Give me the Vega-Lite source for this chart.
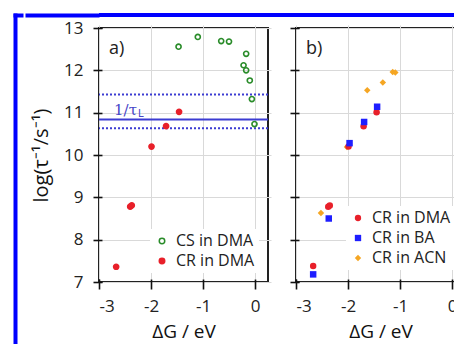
{
  "$schema": "https://vega.github.io/schema/vega-lite/v6.json",
  "padding": {"left": 13, "top": 13, "right": 0, "bottom": 0},
  "background": "white",
  "spacing": 0,
  "datasets": {
    "a": [
      {"dG": -1.47, "logk": 12.56, "series": "CS in DMA"},
      {"dG": -1.10, "logk": 12.79, "series": "CS in DMA"},
      {"dG": -0.65, "logk": 12.69, "series": "CS in DMA"},
      {"dG": -0.50, "logk": 12.68, "series": "CS in DMA"},
      {"dG": -0.17, "logk": 12.39, "series": "CS in DMA"},
      {"dG": -0.22, "logk": 12.12, "series": "CS in DMA"},
      {"dG": -0.17, "logk": 12.00, "series": "CS in DMA"},
      {"dG": -0.10, "logk": 11.76, "series": "CS in DMA"},
      {"dG": -0.06, "logk": 11.32, "series": "CS in DMA"},
      {"dG": -0.01, "logk": 10.73, "series": "CS in DMA"},
      {"dG": -1.46, "logk": 11.02, "series": "CR in DMA"},
      {"dG": -1.71, "logk": 10.68, "series": "CR in DMA"},
      {"dG": -1.99, "logk": 10.20, "series": "CR in DMA"},
      {"dG": -2.40, "logk": 8.78, "series": "CR in DMA"},
      {"dG": -2.37, "logk": 8.81, "series": "CR in DMA"},
      {"dG": -2.67, "logk": 7.36, "series": "CR in DMA"}
    ],
    "b": [
      {"dG": -1.14, "logk": 11.96, "series": "CR in ACN"},
      {"dG": -1.09, "logk": 11.95, "series": "CR in ACN"},
      {"dG": -1.33, "logk": 11.71, "series": "CR in ACN"},
      {"dG": -1.63, "logk": 11.53, "series": "CR in ACN"},
      {"dG": -2.02, "logk": 10.19, "series": "CR in ACN"},
      {"dG": -2.52, "logk": 8.63, "series": "CR in ACN"},
      {"dG": -1.45, "logk": 11.01, "series": "CR in DMA"},
      {"dG": -1.70, "logk": 10.68, "series": "CR in DMA"},
      {"dG": -1.99, "logk": 10.20, "series": "CR in DMA"},
      {"dG": -2.38, "logk": 8.78, "series": "CR in DMA"},
      {"dG": -2.35, "logk": 8.81, "series": "CR in DMA"},
      {"dG": -2.67, "logk": 7.38, "series": "CR in DMA"},
      {"dG": -1.44, "logk": 11.14, "series": "CR in BA"},
      {"dG": -1.69, "logk": 10.78, "series": "CR in BA"},
      {"dG": -1.97, "logk": 10.28, "series": "CR in BA"},
      {"dG": -2.37, "logk": 8.50, "series": "CR in BA"},
      {"dG": -2.67, "logk": 7.18, "series": "CR in BA"}
    ],
    "tau": [
      {"logk": 11.43, "kind": "bound"},
      {"logk": 10.84, "kind": "mean"},
      {"logk": 10.63, "kind": "bound"}
    ],
    "taulabel": [{"dG": -2.71, "logk": 11.07, "label": "1/τ"}],
    "tausub": [{"dG": -2.25, "logk": 10.96, "label": "L"}],
    "tagA": [{"dG": -2.81, "logk": 12.5, "label": "a)"}],
    "tagB": [{"dG": -2.81, "logk": 12.5, "label": "b)"}],
    "frame": [{"v": 0.5}]
  },
  "hconcat": [
    {
      "width": 10,
      "height": 331,
      "view": {"fill": null, "stroke": null},
      "data": {"name": "frame"},
      "mark": {"type": "point", "opacity": 0, "size": 1},
      "encoding": {
        "x": {"field": "v", "type": "quantitative", "scale": {"domain": [0, 1]}, "axis": {"orient": "top", "offset": -2, "domain": true, "domainColor": "#0000ff", "domainWidth": 4, "ticks": false, "labels": false, "grid": false, "title": null}},
        "y": {"field": "v", "type": "quantitative", "scale": {"domain": [0, 1]}, "axis": {"orient": "left", "offset": -2, "domain": true, "domainColor": "#0000ff", "domainWidth": 4, "ticks": false, "labels": false, "grid": false, "title": null}}
      }
    },
    {
      "spacing": 1,
      "vconcat": [
        {
          "width": 370,
          "height": 4,
          "view": {"fill": "#0000ff", "stroke": null},
          "data": {"name": "frame"},
          "mark": {"type": "point", "opacity": 0, "size": 1},
          "encoding": {
            "y": {"field": "v", "type": "quantitative", "scale": {"domain": [0, 1]}, "axis": {"orient": "left", "offset": 0, "domain": false, "values": [0.5], "ticks": true, "tickSize": 74, "tickWidth": 4, "tickColor": "#0000ff", "tickCap": "butt", "labels": false, "grid": false, "title": null}}
          }
        },
        {
          "spacing": 18,
          "resolve": {"scale": {"fill": "independent", "stroke": "independent", "color": "independent", "shape": "independent", "strokeDash": "independent"}},
          "hconcat": [
            {
              "width": 169,
              "height": 254,
              "layer": [
                {
                  "data": {"name": "tau"},
                  "mark": {"type": "rule", "color": "#3c3cd2", "strokeWidth": 2},
                  "encoding": {
                    "y": {"field": "logk", "type": "quantitative", "scale": {"domain": [7, 13], "nice": false, "zero": false}, "axis": {"values": [7, 8, 9, 10, 11, 12, 13], "title": "log(τ⁻¹/s⁻¹)"}},
                    "strokeDash": {"field": "kind", "type": "nominal", "scale": {"domain": ["mean", "bound"], "range": [[1, 0], [2, 2]]}, "legend": null}
                  }
                },
                {
                  "data": {"name": "taulabel"},
                  "mark": {"type": "text", "font": "DejaVu Serif", "fontSize": 15, "color": "#4646c8", "align": "left", "baseline": "middle"},
                  "encoding": {
                    "x": {"field": "dG", "type": "quantitative", "scale": {"domain": [-3, 0.25], "nice": false, "zero": false}, "axis": {"values": [-3, -2, -1, 0], "labelExpr": "'' + datum.value", "title": "ΔG / eV"}},
                    "y": {"field": "logk", "type": "quantitative", "scale": {"domain": [7, 13], "nice": false, "zero": false}, "axis": {"values": [7, 8, 9, 10, 11, 12, 13], "title": "log(τ⁻¹/s⁻¹)"}},
                    "text": {"field": "label"}
                  }
                },
                {
                  "data": {"name": "tausub"},
                  "mark": {"type": "text", "font": "DejaVu Sans", "fontSize": 10, "color": "#4646c8", "align": "left", "baseline": "middle"},
                  "encoding": {
                    "x": {"field": "dG", "type": "quantitative", "scale": {"domain": [-3, 0.25], "nice": false, "zero": false}, "axis": {"values": [-3, -2, -1, 0], "labelExpr": "'' + datum.value", "title": "ΔG / eV"}},
                    "y": {"field": "logk", "type": "quantitative", "scale": {"domain": [7, 13], "nice": false, "zero": false}, "axis": {"values": [7, 8, 9, 10, 11, 12, 13], "title": "log(τ⁻¹/s⁻¹)"}},
                    "text": {"field": "label"}
                  }
                },
                {
                  "data": {"name": "a"},
                  "mark": {"type": "point", "filled": true, "size": 26, "strokeWidth": 1.6, "opacity": 1},
                  "encoding": {
                    "x": {"field": "dG", "type": "quantitative", "scale": {"domain": [-3, 0.25], "nice": false, "zero": false}, "axis": {"values": [-3, -2, -1, 0], "labelExpr": "'' + datum.value", "title": "ΔG / eV"}},
                    "y": {"field": "logk", "type": "quantitative", "scale": {"domain": [7, 13], "nice": false, "zero": false}, "axis": {"values": [7, 8, 9, 10, 11, 12, 13], "title": "log(τ⁻¹/s⁻¹)"}},
                    "fill": {"field": "series", "type": "nominal", "scale": {"domain": ["CS in DMA", "CR in DMA"], "range": ["rgba(255,255,255,0)", "#e8202a"]}, "legend": {"title": null, "symbolSize": 30}},
                    "stroke": {"field": "series", "type": "nominal", "scale": {"domain": ["CS in DMA", "CR in DMA"], "range": ["#2a8c2a", "#e8202a"]}, "legend": {"title": null, "symbolSize": 30}}
                  }
                },
                {
                  "data": {"name": "tagA"},
                  "mark": {"type": "text", "font": "Open Sans", "fontSize": 18, "color": "#222", "align": "left", "baseline": "middle"},
                  "encoding": {
                    "x": {"field": "dG", "type": "quantitative", "scale": {"domain": [-3, 0.25], "nice": false, "zero": false}, "axis": {"values": [-3, -2, -1, 0], "labelExpr": "'' + datum.value", "title": "ΔG / eV"}},
                    "y": {"field": "logk", "type": "quantitative", "scale": {"domain": [7, 13], "nice": false, "zero": false}, "axis": {"values": [7, 8, 9, 10, 11, 12, 13], "title": "log(τ⁻¹/s⁻¹)"}},
                    "text": {"field": "label"}
                  }
                }
              ]
            },
            {
              "width": 169,
              "height": 254,
              "layer": [
                {
                  "data": {"name": "b"},
                  "mark": {"type": "point", "filled": true, "size": 42, "opacity": 1},
                  "encoding": {
                    "x": {"field": "dG", "type": "quantitative", "scale": {"domain": [-3, 0.25], "nice": false, "zero": false}, "axis": {"values": [-3, -2, -1, 0], "labelExpr": "'' + datum.value", "title": "ΔG / eV"}},
                    "y": {"field": "logk", "type": "quantitative", "scale": {"domain": [7, 13], "nice": false, "zero": false}, "axis": {"values": [7, 8, 9, 10, 11, 12, 13], "labels": false, "title": null}},
                    "color": {"field": "series", "type": "nominal", "scale": {"domain": ["CR in DMA", "CR in BA", "CR in ACN"], "range": ["#e8202a", "#1e1eff", "#f5a623"]}, "legend": {"title": null, "orient": "none", "legendX": 50, "legendY": 178, "symbolSize": 40}},
                    "shape": {"field": "series", "type": "nominal", "scale": {"domain": ["CR in DMA", "CR in BA", "CR in ACN"], "range": ["circle", "square", "diamond"]}, "legend": {"title": null, "orient": "none", "legendX": 50, "legendY": 178, "symbolSize": 40}}
                  }
                },
                {
                  "data": {"name": "tagB"},
                  "mark": {"type": "text", "font": "Open Sans", "fontSize": 18, "color": "#222", "align": "left", "baseline": "middle"},
                  "encoding": {
                    "x": {"field": "dG", "type": "quantitative", "scale": {"domain": [-3, 0.25], "nice": false, "zero": false}, "axis": {"values": [-3, -2, -1, 0], "labelExpr": "'' + datum.value", "title": "ΔG / eV"}},
                    "y": {"field": "logk", "type": "quantitative", "scale": {"domain": [7, 13], "nice": false, "zero": false}, "axis": {"values": [7, 8, 9, 10, 11, 12, 13], "labels": false, "title": null}},
                    "text": {"field": "label"}
                  }
                }
              ]
            }
          ]
        }
      ]
    }
  ],
  "config": {
    "font": "Open Sans",
    "view": {"stroke": "#222", "strokeWidth": 2, "fill": "white"},
    "axis": {
      "domain": false,
      "grid": true,
      "gridColor": "#d9d9d9",
      "gridWidth": 1,
      "tickColor": "#111",
      "tickWidth": 1.6,
      "tickSize": 9,
      "offset": -3,
      "labelFont": "Open Sans",
      "labelFontSize": 17,
      "labelColor": "#222",
      "titleFont": "Open Sans",
      "titleFontWeight": "normal",
      "titleColor": "#111"
    },
    "axisX": {"tickSize": 10, "labelPadding": 9, "titleFontSize": 19, "titlePadding": 8},
    "axisY": {"labelPadding": 10, "titleFontSize": 20, "titlePadding": 12},
    "legend": {
      "orient": "bottom-right",
      "labelFont": "Open Sans",
      "labelFontSize": 16,
      "labelColor": "#222",
      "fillColor": "white",
      "padding": 4,
      "offset": 9,
      "rowPadding": 4,
      "labelOffset": 6
    }
  }
}
